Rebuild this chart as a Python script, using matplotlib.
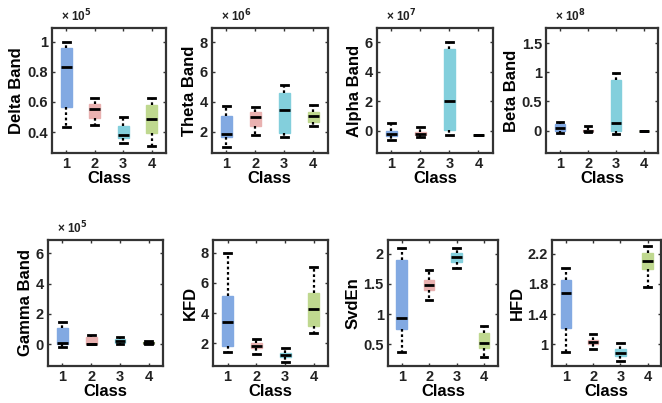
import matplotlib
matplotlib.use('Agg')
import matplotlib.pyplot as plt

classes = [1, 2, 3, 4]
class_labels = ['1', '2', '3', '4']
colors = ['#82a9e2', '#e9b1b0', '#83cfdc', '#bfd88f']

# Each panel: lower whisker, Q1, median, Q3, upper whisker (per class)
delta_lo = [0.436, 0.444, 0.329, 0.307]
delta_q1 = [0.567, 0.496, 0.362, 0.396]
delta_med = [0.829, 0.556, 0.378, 0.489]
delta_q3 = [0.956, 0.584, 0.440, 0.578]
delta_hi = [1.000, 0.624, 0.502, 0.624]

theta_lo = [0.96, 1.78, 1.67, 2.38]
theta_q1 = [1.62, 2.38, 1.93, 2.67]
theta_med = [1.84, 2.96, 3.44, 3.04]
theta_q3 = [3.04, 3.33, 4.56, 3.33]
theta_hi = [3.71, 3.62, 5.11, 3.78]

alpha_lo = [-0.67, -0.45, -0.29, -0.29]
alpha_q1 = [-0.40, -0.32, 0.04, -0.29]
alpha_med = [-0.22, -0.22, 2.00, -0.29]
alpha_q3 = [-0.02, -0.12, 5.55, -0.29]
alpha_hi = [0.49, 0.22, 6.00, -0.29]

beta_lo = [-0.045, -0.017, -0.057, 0.0]
beta_q1 = [-0.006, -0.01, 0.0, 0.0]
beta_med = [0.040, 0.0, 0.125, 0.0]
beta_q3 = [0.114, 0.01, 0.864, 0.0]
beta_hi = [0.142, 0.08, 0.99, 0.0]

gamma_lo = [-0.22, -0.02, 0.04, 0.0]
gamma_q1 = [0.0, 0.0, 0.09, 0.05]
gamma_med = [0.09, 0.04, 0.18, 0.09]
gamma_q3 = [1.09, 0.44, 0.31, 0.13]
gamma_hi = [1.44, 0.60, 0.49, 0.18]

kfd_lo = [1.44, 1.33, 0.80, 2.71]
kfd_q1 = [1.82, 1.67, 1.07, 3.16]
kfd_med = [3.38, 1.82, 1.22, 4.27]
kfd_q3 = [5.11, 2.04, 1.38, 5.33]
kfd_hi = [8.00, 2.27, 1.67, 7.07]

svd_lo = [0.37, 1.24, 1.76, 0.29]
svd_q1 = [0.76, 1.40, 1.87, 0.43]
svd_med = [0.93, 1.48, 1.94, 0.52]
svd_q3 = [1.90, 1.57, 2.01, 0.69]
svd_hi = [2.09, 1.73, 2.09, 0.80]

hfd_lo = [0.90, 0.93, 0.77, 1.76]
hfd_q1 = [1.22, 1.00, 0.84, 2.00]
hfd_med = [1.68, 1.03, 0.876, 2.107]
hfd_q3 = [1.85, 1.06, 0.93, 2.21]
hfd_hi = [2.01, 1.14, 1.02, 2.30]

panels = [
    ('Delta Band', '5', (delta_lo, delta_q1, delta_med, delta_q3, delta_hi), (0.26, 1.09), [0.4, 0.6, 0.8, 1.0], ['0.4', '0.6', '0.8', '1'],
     [0.0785, 0.620, 0.172, 0.310]),
    ('Theta Band', '6', (theta_lo, theta_q1, theta_med, theta_q3, theta_hi), (0.56, 8.93), [2, 4, 6, 8], ['2', '4', '6', '8'],
     [0.320, 0.620, 0.175, 0.310]),
    ('Alpha Band', '7', (alpha_lo, alpha_q1, alpha_med, alpha_q3, alpha_hi), (-1.53, 6.94), [0, 2, 4, 6], ['0', '2', '4', '6'],
     [0.5695, 0.620, 0.175, 0.310]),
    ('Beta Band', '8', (beta_lo, beta_q1, beta_med, beta_q3, beta_hi), (-0.386, 1.756), [0, 0.5, 1, 1.5], ['0', '0.5', '1', '1.5'],
     [0.825, 0.620, 0.169, 0.310]),
    ('Gamma Band', '5', (gamma_lo, gamma_q1, gamma_med, gamma_q3, gamma_hi), (-1.44, 6.89), [0, 2, 4, 6], ['0', '2', '4', '6'],
     [0.0725, 0.092, 0.174, 0.313]),
    ('KFD', None, (kfd_lo, kfd_q1, kfd_med, kfd_q3, kfd_hi), (0.51, 8.84), [2, 4, 6, 8], ['2', '4', '6', '8'],
     [0.322, 0.092, 0.174, 0.313]),
    ('SvdEn', None, (svd_lo, svd_q1, svd_med, svd_q3, svd_hi), (0.139, 2.233), [0.5, 1, 1.5, 2], ['0.5', '1', '1.5', '2'],
     [0.586, 0.092, 0.166, 0.313]),
    ('HFD', None, (hfd_lo, hfd_q1, hfd_med, hfd_q3, hfd_hi), (0.71, 2.387), [1.0, 1.4, 1.8, 2.2], ['1', '1.4', '1.8', '2.2'],
     [0.834, 0.092, 0.165, 0.313]),
]

plt.rcParams['font.family'] = ['Liberation Sans', 'DejaVu Sans']
plt.rcParams['font.weight'] = 'bold'

fig = plt.figure(figsize=(6.62, 4.03), dpi=100)

for title, expo, (lo, q1, med, q3, hi), ylim, yt, ytl, pos in panels:
    ax = fig.add_axes(pos)
    stats = []
    for i in range(4):
        stats.append(dict(whislo=lo[i], q1=q1[i], med=med[i], q3=q3[i], whishi=hi[i], fliers=[]))
    bp = ax.bxp(stats, positions=classes, widths=0.38, patch_artist=True, showfliers=False,
                capwidths=0.24,
                boxprops=dict(linewidth=1.0),
                medianprops=dict(color='black', linewidth=2.0),
                whiskerprops=dict(color='black', linestyle=(0, (1.2, 1.2)), linewidth=1.6),
                capprops=dict(color='black', linewidth=2.0))
    for patch, c in zip(bp['boxes'], colors):
        patch.set_facecolor(c)
        patch.set_edgecolor(c)
    ax.set_xlim(0.5, 4.5)
    ax.set_ylim(*ylim)
    ax.set_xticks(classes)
    ax.set_xticklabels(class_labels)
    ax.set_yticks(yt)
    ax.set_yticklabels(ytl)
    ax.tick_params(direction='in', length=2.5, width=1.0, top=True, right=True,
                   labelsize=10.5, labelcolor='#222222', color='#333333', pad=3)
    for lab in ax.get_xticklabels() + ax.get_yticklabels():
        lab.set_fontweight('bold')
    for sp in ax.spines.values():
        sp.set_linewidth(1.6)
        sp.set_color('#333333')
    ax.set_ylabel(title, fontsize=12, fontweight='bold', labelpad=2)
    ax.set_xlabel('Class', fontsize=12, fontweight='bold', labelpad=0)
    if expo is not None:
        ax.text(0.08, 1.03, '× 10$^{' + expo + '}$', transform=ax.transAxes,
                fontsize=8.5, fontweight='bold', color='#222222', va='bottom', ha='left')

fig.savefig('out.png', dpi=100)
